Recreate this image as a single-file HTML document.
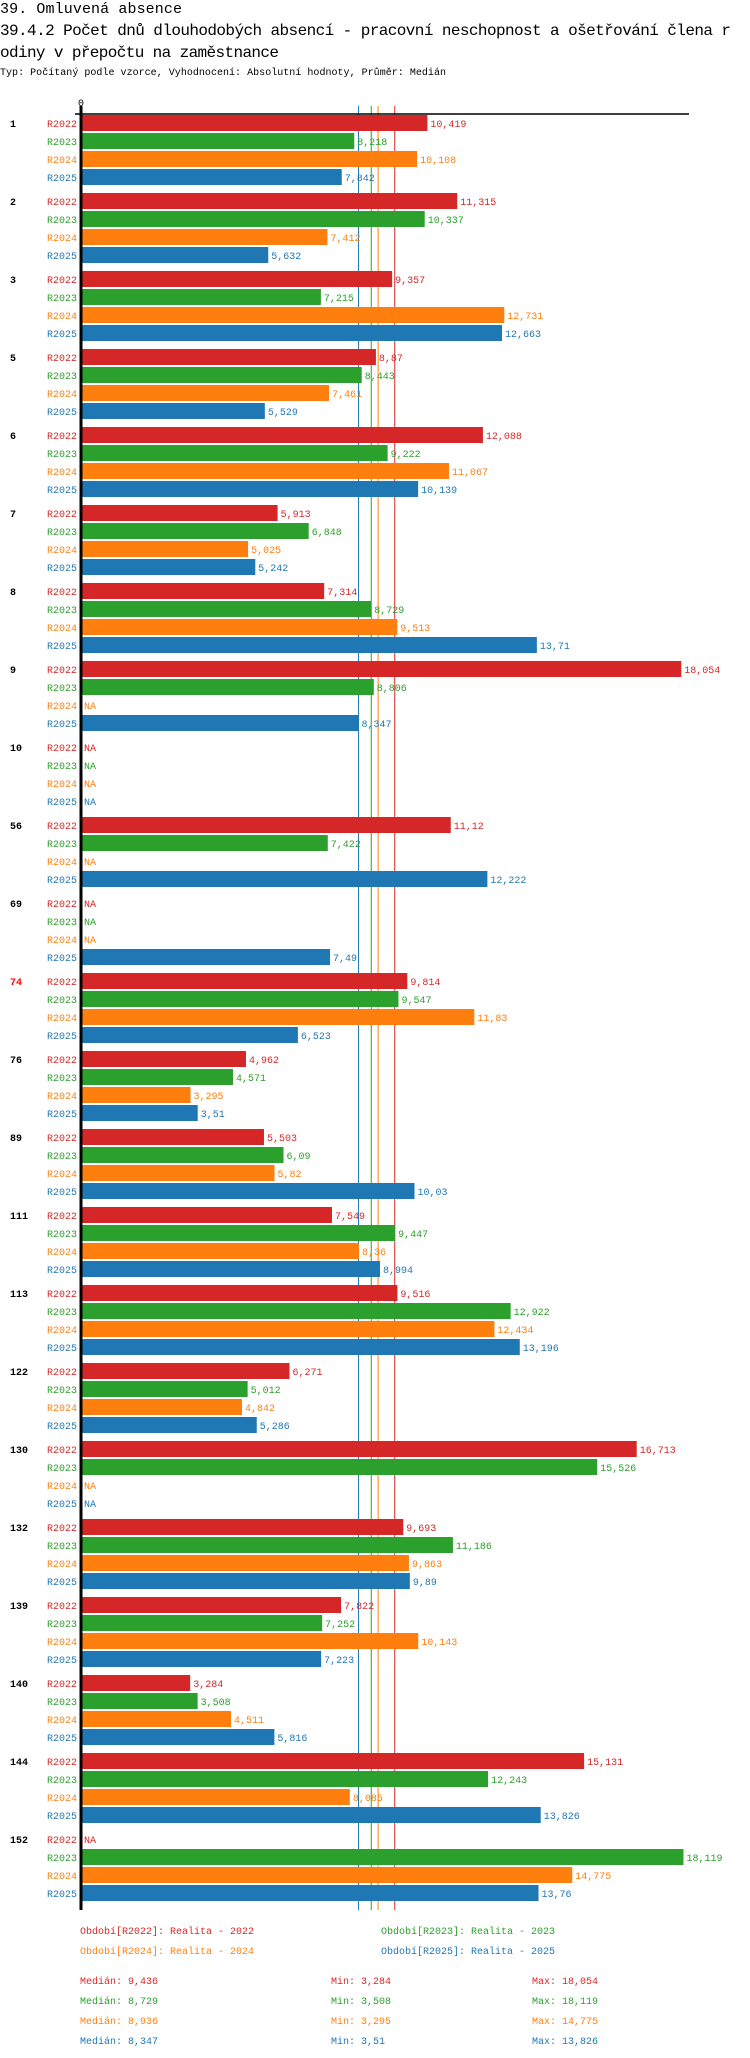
<!DOCTYPE html>
<html><head><meta charset="utf-8">
<style>
html,body{margin:0;padding:0;background:#fff;}
svg{display:block;font-family:"Liberation Mono","DejaVu Sans Mono",monospace;}
</style></head>
<body>
<svg id="chart" width="750" height="2058" viewBox="0 0 750 2058" xmlns="http://www.w3.org/2000/svg">
<text x="0" y="13" font-size="15" textLength="182" fill="#000">39. Omluvená absence</text>
<text x="0" y="35" font-size="16" textLength="731" fill="#000">39.4.2 Počet dnů dlouhodobých absencí - pracovní neschopnost a ošetřování člena r</text>
<text x="0" y="57" font-size="16" textLength="279" fill="#000">odiny v přepočtu na zaměstnance</text>
<text x="0" y="75" font-size="10" textLength="446" fill="#000">Typ: Počítaný podle vzorce, Vyhodnocení: Absolutní hodnoty, Průměr: Medián</text>
<g id="plot"></g>
</svg>
<script>
const groups = ["1","2","3","5","6","7","8","9","10","56","69","74","76","89","111","113","122","130","132","139","140","144","152"];
const seriesNames = ["R2022","R2023","R2024","R2025"];
const r2022 = [10.419,11.315,9.357,8.87,12.088,5.913,7.314,18.054,null,11.12,null,9.814,4.962,5.503,7.549,9.516,6.271,16.713,9.693,7.822,3.284,15.131,null];
const r2023 = [8.218,10.337,7.215,8.443,9.222,6.848,8.729,8.806,null,7.422,null,9.547,4.571,6.09,9.447,12.922,5.012,15.526,11.186,7.252,3.508,12.243,18.119];
const r2024 = [10.108,7.412,12.731,7.461,11.067,5.025,9.513,null,null,null,null,11.83,3.295,5.82,8.36,12.434,4.842,null,9.863,10.143,4.511,8.085,14.775];
const r2025 = [7.842,5.632,12.663,5.529,10.139,5.242,13.71,8.347,null,12.222,7.49,6.523,3.51,10.03,8.994,13.196,5.286,null,9.89,7.223,5.816,13.826,13.76];
const medians = [9.436,8.729,8.936,8.347];
const mins = [3.284,3.508,3.295,3.51];
const maxs = [18.054,18.119,14.775,13.826];
const highlightGroup = "74";
const tickLabels = ["0"];

const colors = ["#d62728","#2ca02c","#ff7f0e","#1f77b4"];
const series = [r2022,r2023,r2024,r2025];
const X0 = 81, K = 33.25, TOP = 115, GP = 78, RP = 18, BH = 16;
const xs = v => X0 + v*K;
const ys = (g,s) => TOP + g*GP + s*RP;
const fmt = v => String(v).replace('.',',');
const NS = "http://www.w3.org/2000/svg";
const plot = document.getElementById('plot');
function mk(tag, attrs, text){
  const e = document.createElementNS(NS, tag);
  for (const k in attrs) e.setAttribute(k, attrs[k]);
  if (text !== undefined) e.textContent = text;
  plot.appendChild(e);
  return e;
}
const lastY = ys(groups.length-1,3)+BH;
// median lines (behind bars)
medians.forEach((m,si)=>{
  const l = mk('line',{x1:xs(m),y1:106,x2:xs(m),y2:lastY+9,stroke:colors[si],'stroke-width':1});
  
  
});
// axis
let e = mk('line',{x1:75,y1:114,x2:689,y2:114,stroke:'#000','stroke-width':1.5});


e = mk('line',{x1:X0,y1:106,x2:X0,y2:lastY+9,stroke:'#000','stroke-width':3});


tickLabels.forEach(t=>{
  const el = mk('text',{x:xs(+t),y:106,'font-size':10,'text-anchor':'middle',fill:'#000'},t);
  
  
});
// groups
groups.forEach((g,gi)=>{
  const gl = mk('text',{x:10,y:ys(gi,0)+12,'font-size':10,'font-weight':'bold',fill:g===highlightGroup?'#ff0000':'#000'},g);
  
  
  series.forEach((arr,si)=>{
    const y = ys(gi,si);
    const lab = mk('text',{x:77,y:y+12,'font-size':10,'text-anchor':'end',fill:colors[si]},seriesNames[si]);
    
    
    const v = arr[gi];
    if (v === null){
      const na = mk('text',{x:X0+3,y:y+12,'font-size':10,fill:colors[si]},'NA');
      
      
    } else {
      const b = mk('rect',{x:X0+1.5,y:y,width:xs(v)-X0-1.5,height:BH,fill:colors[si]});
      
      
      const vl = mk('text',{x:xs(v)+3,y:y+12,'font-size':10,fill:colors[si]},fmt(v));
      
      
    }
  });
});
// legend
const legPos = [[80,1934],[381,1934],[80,1954],[381,1954]];
const legYears = ["2022","2023","2024","2025"];
seriesNames.forEach((s,si)=>{
  const t = mk('text',{x:legPos[si][0],y:legPos[si][1],'font-size':10,fill:colors[si]},'Období['+s+']: Realita - '+legYears[si]);
  
  
});
// stats
seriesNames.forEach((s,si)=>{
  const y = 1984 + si*20;
  const a = mk('text',{x:80,y:y,'font-size':10,fill:colors[si]},'Medián: '+fmt(medians[si]));
  
  
  const b = mk('text',{x:331,y:y,'font-size':10,fill:colors[si]},'Min: '+fmt(mins[si]));
  
  
  const c = mk('text',{x:532,y:y,'font-size':10,fill:colors[si]},'Max: '+fmt(maxs[si]));
  
  
});
</script>
</body></html>
